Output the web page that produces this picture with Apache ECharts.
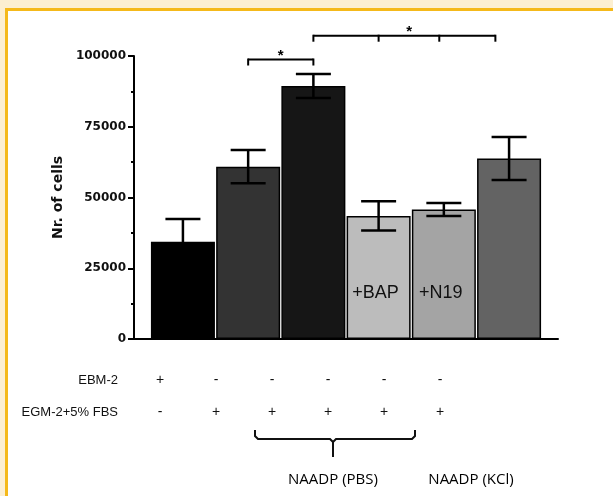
<!DOCTYPE html>
<html><head><meta charset="utf-8">
<script src="https://cdn.jsdelivr.net/npm/echarts@6/dist/echarts.min.js"></script>
<style>html,body{margin:0;padding:0;background:#FCEFD1;}#c{width:613px;height:496px;}</style>
</head><body><div id="c"></div>
<script>
// ---- data ----
const categories = ['EBM-2', 'EGM-2+5% FBS', 'NAADP (PBS)', '+BAP', '+N19', 'NAADP (KCl)'];
const means  = [34400, 60900, 89400, 43500, 45800, 63800];
const errors = [8000, 5900, 4200, 5200, 2300, 7600];
const barColors = ['#000000', '#333333', '#161616', '#bcbcbc', '#a4a4a4', '#636363'];
const barLabels = ['', '', '', '+BAP', '+N19', ''];
const yTicks = [0, 25000, 50000, 75000, 100000];
const rowNames = ['EBM-2', 'EGM-2+5% FBS'];
const rowEBM = ['+', '-', '-', '-', '-', '-'];
const rowEGM = ['-', '+', '+', '+', '+', '+'];
const groupLabels = ['NAADP (PBS)', 'NAADP (KCl)'];
// significance brackets: x in category units, y in data units
const sigXs1 = [1, 2];
const sigXs2 = [2, 3, 3.93, 4.79];
const sigY = [98760, 107170];
const sigStarX = [1.5, 3.47];

const chart = echarts.init(document.getElementById('c'), null, {renderer: 'canvas'});

const barData = means.map((v, i) => ({
  value: [i, v],
  itemStyle: {color: barColors[i], borderColor: '#000', borderWidth: 1.5},
  label: barLabels[i] ? {show: true, formatter: barLabels[i]} : {show: false}
}));
const errData = means.map((v, i) => [i, v, errors[i]]);
const brackets = [sigXs1, sigXs2];
const sigData = brackets.map((xs, i) => [sigStarX[i], sigY[i], i]);

const lineStyle = {stroke: '#000', lineWidth: 2.5};

// annotation table below the axis
const colX0 = 160, colDX = 56;
const graphics = [
  {type: 'rect', z: -100, shape: {x: 6.5, y: 9.5, width: 700, height: 600},
   style: {fill: '#fff', stroke: '#F5B91A', lineWidth: 3}}
];
[rowEBM, rowEGM].forEach((row, r) => {
  const y = 380 + r * 32;
  graphics.push({type: 'text', x: 118, y: y, style: {text: rowNames[r], font: '13px "Liberation Sans", Arial', fill: '#111', align: 'right', verticalAlign: 'middle'}});
  row.forEach((s, i) => {
    graphics.push({type: 'text', x: colX0 + i * colDX, y: y, style: {text: s, font: '14px "Liberation Sans", Arial', fill: '#111', align: 'center', verticalAlign: 'middle'}});
  });
});
graphics.push({type: 'polyline', shape: {points: [[255,430],[255,436],[258,439],[330,439],[333,442],[333,457]]},
  style: {fill: null, stroke: '#111', lineWidth: 2}});
graphics.push({type: 'polyline', shape: {points: [[333,442],[336,439],[412,439],[415,436],[415,430]]},
  style: {fill: null, stroke: '#111', lineWidth: 2}});
graphics.push({type: 'text', x: 333, y: 480, style: {text: groupLabels[0], font: '15px "Open Sans"', fill: '#000', align: 'center', verticalAlign: 'middle'}});
graphics.push({type: 'text', x: 471, y: 480, style: {text: groupLabels[1], font: '15px "Open Sans"', fill: '#000', align: 'center', verticalAlign: 'middle'}});

chart.setOption({
  backgroundColor: '#FCEFD1',
  animation: false,
  grid: {left: 134, top: 56, width: 424, height: 283},
  xAxis: {
    type: 'value', min: -0.75, max: 5.75,
    axisLine: {show: true, onZero: false, lineStyle: {color: '#000', width: 2}},
    axisTick: {show: false}, axisLabel: {show: false}, splitLine: {show: false}
  },
  yAxis: {
    type: 'value', min: yTicks[0], max: yTicks[yTicks.length - 1], interval: 25000,
    name: 'Nr. of cells', nameLocation: 'middle', nameGap: 56, nameRotate: 90,
    nameTextStyle: {fontFamily: 'DejaVu Sans', fontWeight: 'bold', fontSize: 14, color: '#111', padding: [0, 0, 0, 0]},
    axisLine: {show: true, onZero: false, lineStyle: {color: '#000', width: 2}},
    axisTick: {show: true, length: 6, lineStyle: {color: '#000', width: 2}},
    minorTick: {show: true, splitNumber: 2, length: 3, lineStyle: {color: '#000', width: 2}},
    axisLabel: {margin: 8, fontFamily: 'DejaVu Sans', fontWeight: 'bold', fontSize: 12, color: '#111', formatter: v => String(v)},
    splitLine: {show: false}
  },
  graphic: graphics,
  series: [
    {type: 'bar', data: barData, barWidth: 64, z: 2,
     label: {position: 'insideBottom', distance: 37, offset: [-3, 0], fontFamily: 'Liberation Sans', fontSize: 18, color: '#111'}},
    {type: 'custom', z: 5, data: errData, clip: false,
     renderItem(params, api) {
       const x = api.value(0), m = api.value(1), e = api.value(2);
       const top = api.coord([x, m + e]), bot = api.coord([x, m - e]);
       const h = 17.5;
       return {type: 'group', children: [
         {type: 'line', shape: {x1: top[0], y1: top[1], x2: bot[0], y2: bot[1]}, style: lineStyle},
         {type: 'line', shape: {x1: top[0] - h, y1: top[1], x2: top[0] + h, y2: top[1]}, style: lineStyle},
         {type: 'line', shape: {x1: bot[0] - h, y1: bot[1], x2: bot[0] + h, y2: bot[1]}, style: lineStyle}
       ]};
     }},
    {type: 'custom', z: 5, data: sigData, clip: false,
     renderItem(params, api) {
       const xs = brackets[api.value(2)];
       const y = api.value(1);
       const pts = xs.map(x => api.coord([x, y]));
       const yy = pts[0][1];
       const children = [{type: 'line', shape: {x1: pts[0][0], y1: yy, x2: pts[pts.length - 1][0], y2: yy}, style: {stroke: '#000', lineWidth: 2}}];
       pts.forEach(p => children.push({type: 'line', shape: {x1: p[0], y1: yy - 1, x2: p[0], y2: yy + 6}, style: {stroke: '#000', lineWidth: 2}}));
       const s = api.coord([api.value(0), y]);
       children.push({type: 'text', x: s[0], y: yy - 4, style: {text: '*', font: 'bold 15px "Liberation Sans"', fill: '#000', align: 'center', verticalAlign: 'middle'}});
       return {type: 'group', children};
     }}
  ]
});
</script></body></html>
